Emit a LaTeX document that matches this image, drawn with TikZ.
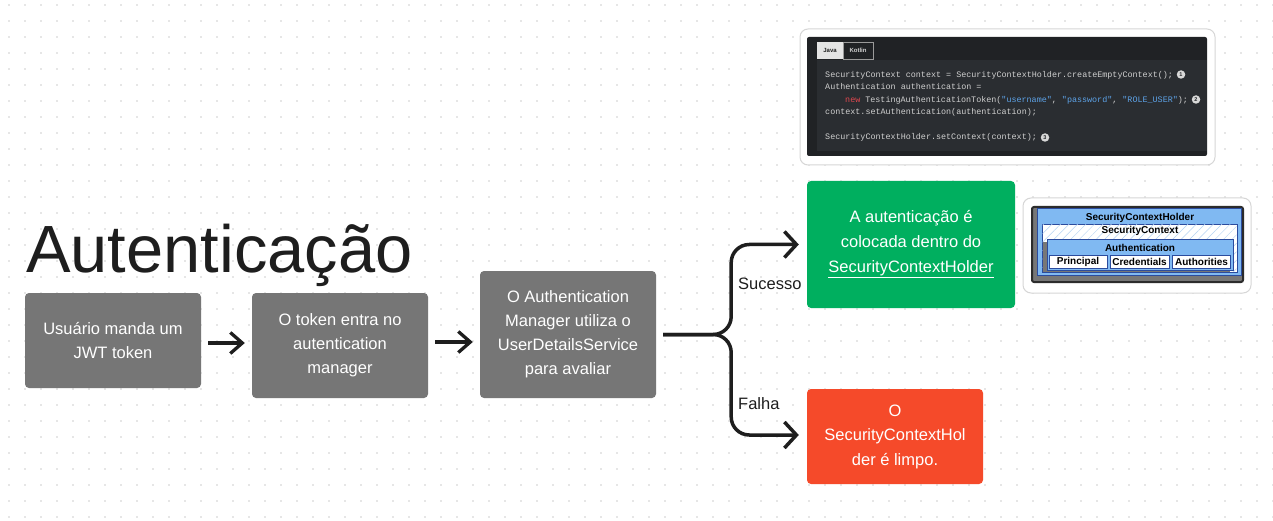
\documentclass[tikz,border=0pt]{standalone}
\usepackage{fontspec}
\setmainfont{Liberation Sans}
\newfontfamily\codefont{Liberation Mono}
\usetikzlibrary{arrows.meta,patterns.meta}

\definecolor{ink}{HTML}{1E1E1E}
\definecolor{boxgray}{HTML}{767676}
\definecolor{okgreen}{HTML}{00AF5F}
\definecolor{failred}{HTML}{F54A2A}
\definecolor{griddot}{HTML}{E6E6E6}
\definecolor{cardline}{HTML}{D6D6D6}
\definecolor{codebg}{HTML}{202225}
\definecolor{codearea}{HTML}{2A2D31}
\definecolor{codetext}{HTML}{D0D0D0}
\definecolor{codestr}{HTML}{5DA3E8}
\definecolor{codekw}{HTML}{E0474F}
\definecolor{tablight}{HTML}{E4E4E4}
\definecolor{tabline}{HTML}{9A9A9A}
\definecolor{numfill}{HTML}{D8D8D8}
\definecolor{scblue}{HTML}{80B9F2}
\definecolor{scline}{HTML}{2B4C9E}
\definecolor{schatch}{HTML}{B4D2F2}
\definecolor{scdark}{HTML}{2C2C2C}
\definecolor{scshadow}{HTML}{777777}

\begin{document}
\begin{tikzpicture}[x=1pt,y=-1pt,
  flowbox/.style={rounded corners=4pt, inner sep=0pt, text=white, align=center,
    font=\fontsize{16.5}{24}\selectfont},
  lbl/.style={inner sep=0pt, text=ink, font=\fontsize{16.5}{20}\selectfont},
  arr/.style={draw=ink, line width=3.3pt, shorten <=7pt, shorten >=7pt,
    -{Straight Barb[length=12pt,width=21pt]}},
  branch/.style={draw=ink, line width=3.5pt, rounded corners=18pt,
    shorten <=7pt, shorten >=8pt, -{Straight Barb[length=12pt,width=26pt]}},
  code/.style={anchor=base west, inner sep=0pt, text=codetext,
    font=\codefont\fontsize{8.4}{10}\selectfont},
  num/.style={circle, fill=numfill, text=codebg, inner sep=0pt, minimum size=8.5pt,
    font=\bfseries\fontsize{5.5}{6}\selectfont},
  tabbox/.style={inner sep=0pt, minimum height=17pt, font=\bfseries\fontsize{6}{7}\selectfont},
  sclbl/.style={inner sep=0pt, text=black, font=\bfseries\fontsize{10}{12}\selectfont},
  scsmall/.style={draw=scline, line width=0.8pt, fill=white, inner sep=0pt,
    minimum height=13pt, text=black, font=\bfseries\fontsize{10}{12}\selectfont}
]
\useasboundingbox (0,0) rectangle (1273,521);
\fill[white] (0,0) rectangle (1273,521);

% dot grid
\foreach \i in {0,...,79}{
  \foreach \j in {0,...,32}{
    \fill[griddot] ({8+16*\i},{4+16*\j}) rectangle ++(2,2);
  }
}

% title
\node[anchor=base west, inner sep=0pt, text=ink, font=\fontsize{66.8}{70}\selectfont]
  (title) at (26,272.5) {Autenticação};

% flow boxes
\node[flowbox, fill=boxgray, minimum width=176pt, minimum height=95pt] (b1) at (113,340.5)
  {Usuário manda um\\JWT token};
\node[flowbox, fill=boxgray, minimum width=176pt, minimum height=105pt] (b2) at (340,345.5)
  {O token entra no\\autentication\\manager};
\node[flowbox, fill=boxgray, minimum width=176pt, minimum height=127pt] (b3) at (568,334.5)
  {O Authentication\\Manager utiliza o\\UserDetailsService\\para avaliar};
\node[flowbox, fill=okgreen, minimum width=208pt, minimum height=127pt,
  font=\fontsize{16.5}{25}\selectfont] (ok) at (911,244.5)
  {A autenticação é\\colocada dentro do\\\underline{SecurityContextHolder}};
\node[flowbox, fill=failred, minimum width=176pt, minimum height=95pt,
  font=\fontsize{16.5}{24.5}\selectfont] (fail) at (895,436.5)
  {O\\SecurityContextHol\\der é limpo.};

% connectors
\coordinate (ya) at (0,343);
\coordinate (yb) at (0,342);
\draw[arr] (b1.east |- ya) -- (b2.west |- ya);
\draw[arr] (b2.east |- yb) -- (b3.west |- yb);
\draw[branch] (b3.east) -- ++(75,0) |- (ok.west);
\draw[branch] ([yshift=-0.01pt]b3.east) -- ++(75,0) |- ([yshift=1.5pt]fail.west);
\node[lbl, anchor=west] (suc) at (738,284) {Sucesso};
\node[lbl, anchor=west] (fal) at (738,404) {Falha};

% code card
\draw[cardline, fill=white, line width=1pt, rounded corners=8pt] (800,29) rectangle (1215,165);
\fill[codebg, rounded corners=2pt] (807,37) rectangle (1207,156);
\fill[codearea] (817,60) rectangle (1207,151);
\node[tabbox, fill=tablight, text=ink, minimum width=26pt] (tjava) at (830,50.5) {Java};
\node[tabbox, draw=tabline, line width=0.6pt, fill=codebg, text=codetext, minimum width=30pt]
  (tkot) at (858,50.5) {Kotlin};
\node[code] (l1) at (825,77.5) {SecurityContext context = SecurityContextHolder.createEmptyContext();};
\node[code] (l2) at (825,90) {Authentication authentication =};
\node[code] (l3) at (845,102.5) {{\color{codekw}new} TestingAuthenticationToken({\color{codestr}"username"}, {\color{codestr}"password"}, {\color{codestr}"ROLE\_USER"});};
\node[code] (l4) at (825,115) {context.setAuthentication(authentication);};
\node[code] (l5) at (825,140) {SecurityContextHolder.setContext(context);};
\node[num] (n1) at (1181,74.5) {1};
\node[num] (n2) at (1196,99.5) {2};
\node[num] (n3) at (1045,137.5) {3};

% security context diagram card
\draw[cardline, fill=white, line width=1pt, rounded corners=8pt] (1023,198) rectangle (1251,293);
\draw[scdark, fill=scshadow, line width=2pt, rounded corners=2pt] (1032,207) rectangle (1243,282);
\draw[scline, fill=scblue, line width=0.8pt] (1037,208) rectangle (1241,275);
\node[sclbl] (sch) at (1140,217.5) {SecurityContextHolder};
\draw[scline, fill=white, line width=0.6pt] (1042,224) rectangle (1237,272);
\fill[pattern={Lines[angle=45,distance=6pt,line width=0.5pt]}, pattern color=schatch]
  (1042.5,224.5) rectangle (1236.5,271.5);
\node[sclbl] (scx) at (1140,230.5) {SecurityContext};
\fill[scshadow] (1043,242) rectangle (1230,272);
\draw[scline, fill=scblue, line width=0.8pt] (1047,239) rectangle (1233,270);
\node[sclbl] (auth) at (1140,248) {Authentication};
\node[scsmall, minimum width=58pt] (pr) at (1078,262) {Principal};
\node[scsmall, minimum width=59pt] (cr) at (1139.5,262) {Credentials};
\node[scsmall, minimum width=58pt] (au) at (1201.5,262) {Authorities};
\end{tikzpicture}
\end{document}
